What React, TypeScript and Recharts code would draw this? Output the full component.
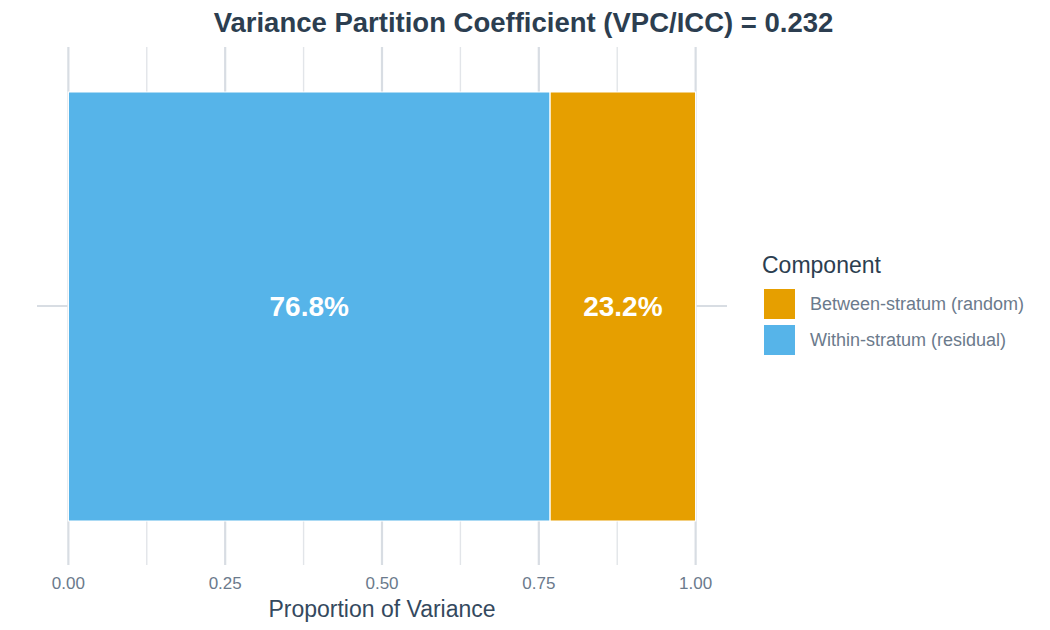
import React from 'react';
import { BarChart, Bar, XAxis, YAxis, CartesianGrid, LabelList, Legend, Label } from 'recharts';

const FONT = '"Liberation Sans", Arial, Helvetica, sans-serif';

// variance components, in stacking order (left to right)
const componentKeys = ['within', 'between'];
const componentNames = ['Within-stratum (residual)', 'Between-stratum (random)'];
const componentShares = [0.768, 0.232];
const componentColors = ['#56B4E9', '#E69F00'];
// legend lists the between-stratum component first
const legendOrder = [1, 0];

const vpc = 0.232;
const xDomain = [-0.05, 1.05];
const majorTicks = [0, 0.25, 0.5, 0.75, 1];
const minorTicks = [0.125, 0.375, 0.625, 0.875];

const rows = [
  componentKeys.reduce(
    (row, key, i) => ({ ...row, [key]: componentShares[i] }),
    { model: 'VPC' } as Record<string, string | number>
  ),
];

const pct = (v: number) => `${(v * 100).toFixed(1)}%`;

const ComponentLegend = () => (
  <div style={{ fontFamily: FONT, textAlign: 'left' }}>
    <div style={{ fontSize: 23, lineHeight: '23px', color: '#2c3e50' }}>Component</div>
    {legendOrder.map((i, n) => (
      <div
        key={componentKeys[i]}
        style={{ display: 'flex', alignItems: 'center', height: 30, marginTop: n === 0 ? 12 : 6 }}
      >
        <div style={{ width: 31, height: 30, marginLeft: 2, background: componentColors[i] }} />
        <span style={{ marginLeft: 15, fontSize: 18, lineHeight: '18px', color: '#6b7a8c' }}>
          {componentNames[i]}
        </span>
      </div>
    ))}
  </div>
);

export default function App() {
  return (
    <div style={{ position: 'relative', width: 1050, height: 630, background: '#fff', fontFamily: FONT }}>
      <style>{'body{margin:0}'}</style>
      <div
        style={{
          position: 'absolute',
          top: 9,
          left: 0,
          width: 1047,
          textAlign: 'center',
          fontSize: 27.5,
          lineHeight: '27px',
          fontWeight: 'bold',
          color: '#2c3e50',
        }}
      >
        {`Variance Partition Coefficient (VPC/ICC) = ${vpc.toFixed(3)}`}
      </div>
      <BarChart
        width={1050}
        height={630}
        data={rows}
        layout="vertical"
        margin={{ top: 47, right: 323, bottom: 0, left: 37 }}
      >
        <CartesianGrid xAxisId="minor" horizontal={false} syncWithTicks stroke="#e2e5e9" strokeWidth={1.4} />
        <CartesianGrid syncWithTicks stroke="#d8dde3" strokeWidth={2.2} />
        <XAxis
          type="number"
          domain={xDomain}
          ticks={majorTicks}
          allowDataOverflow
          height={65}
          axisLine={false}
          tickLine={false}
          tickSize={0}
          tickMargin={12}
          tickFormatter={(v: number) => v.toFixed(2)}
          tick={{ fontSize: 17, fill: '#6b7a8c', fontFamily: FONT }}
        >
          <Label
            value="Proportion of Variance"
            position="insideBottom"
            offset={13}
            style={{ fontSize: 23, fill: '#34495e', fontFamily: FONT }}
          />
        </XAxis>
        <XAxis xAxisId="minor" type="number" domain={xDomain} ticks={minorTicks} allowDataOverflow hide />
        <YAxis type="category" dataKey="model" hide />
        <Legend
          layout="horizontal"
          verticalAlign="middle"
          align="center"
          content={<ComponentLegend />}
          wrapperStyle={{ left: 762, top: 254, width: 285 }}
        />
        {componentKeys.map((key, i) => (
          <Bar
            key={key}
            dataKey={key}
            name={componentNames[i]}
            stackId="vpc"
            fill={componentColors[i]}
            stroke="#ffffff"
            strokeWidth={1.2}
            barSize={429}
            isAnimationActive={false}
          >
            <LabelList
              dataKey={key}
              position="center"
              formatter={(v: number) => pct(v)}
              style={{ fontSize: 28, fontWeight: 'bold', fill: '#ffffff', fontFamily: FONT }}
            />
          </Bar>
        ))}
      </BarChart>
    </div>
  );
}
